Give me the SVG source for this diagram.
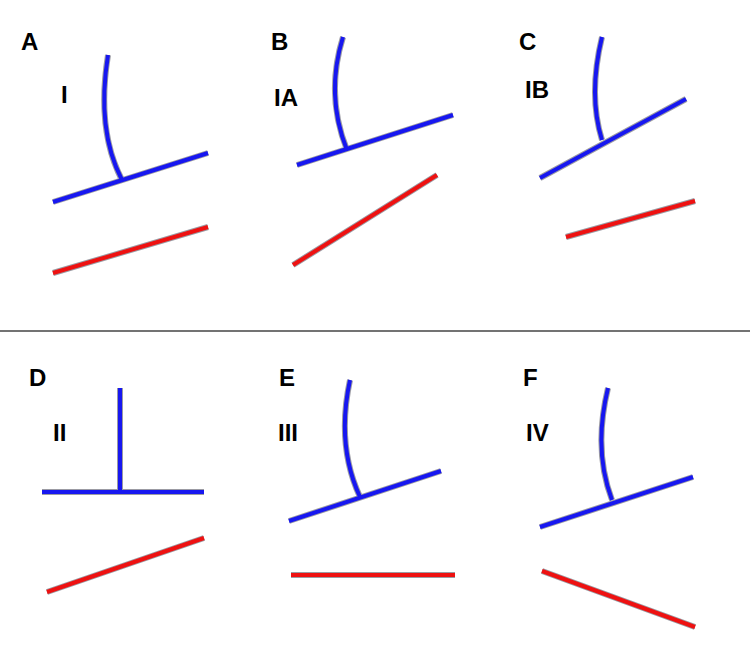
<svg xmlns="http://www.w3.org/2000/svg" width="750" height="647" viewBox="0 0 750 647">
<style>
.lbl{font-family:"Liberation Sans",Arial,sans-serif;font-weight:bold;font-size:24px;fill:#000}
.sh{fill:none;stroke:#223;stroke-width:6;stroke-opacity:0.45;stroke-linecap:butt}
.b{fill:none;stroke:#1717f0;stroke-width:4}
.r{fill:none;stroke:#ee1111;stroke-width:4}
</style>
<rect width="750" height="647" fill="#fff"/>
<line x1="0" y1="331" x2="750" y2="331" stroke="#444" stroke-width="1.5"/>
<g id="panelA">
<text class="lbl" x="21" y="50">A</text><text class="lbl" x="61" y="103">I</text>
<path class="sh" d="M108,55 Q96,130 122,180 M53,202 L208,153 M53,273 L208,227"/>
<path class="b" d="M108,55 Q96,130 122,180 M53,202 L208,153"/><path class="r" d="M53,273 L208,227"/>
</g>
<g id="panelB">
<text class="lbl" x="271" y="50">B</text><text class="lbl" x="274" y="106">IA</text>
<path class="sh" d="M343,37 Q325,95 347,150 M297,165 L453,115 M293,265 L437,175"/>
<path class="b" d="M343,37 Q325,95 347,150 M297,165 L453,115"/><path class="r" d="M293,265 L437,175"/>
</g>
<g id="panelC">
<text class="lbl" x="519" y="50">C</text><text class="lbl" x="525" y="98">IB</text>
<path class="sh" d="M602,37 Q588,95 602,140 M540,178 L686,99 M566,237 L695,201"/>
<path class="b" d="M602,37 Q588,95 602,140 M540,178 L686,99"/><path class="r" d="M566,237 L695,201"/>
</g>
<g id="panelD">
<text class="lbl" x="29" y="386">D</text><text class="lbl" x="53" y="441">II</text>
<path class="sh" d="M120,388 L120,492 M42,492 L204,492 M47,592 L204,538"/>
<path class="b" d="M120,388 L120,492 M42,492 L204,492"/><path class="r" d="M47,592 L204,538"/>
</g>
<g id="panelE">
<text class="lbl" x="279" y="386">E</text><text class="lbl" x="278" y="441">III</text>
<path class="sh" d="M350,380 Q336,445 360,497 M289,521 L441,471 M291,575 L455,575"/>
<path class="b" d="M350,380 Q336,445 360,497 M289,521 L441,471"/><path class="r" d="M291,575 L455,575"/>
</g>
<g id="panelF">
<text class="lbl" x="523" y="386">F</text><text class="lbl" x="526" y="441">IV</text>
<path class="sh" d="M608,388 Q593,450 612,500 M540,527 L693,477 M542,571 L695,627"/>
<path class="b" d="M608,388 Q593,450 612,500 M540,527 L693,477"/><path class="r" d="M542,571 L695,627"/>
</g>
</svg>
